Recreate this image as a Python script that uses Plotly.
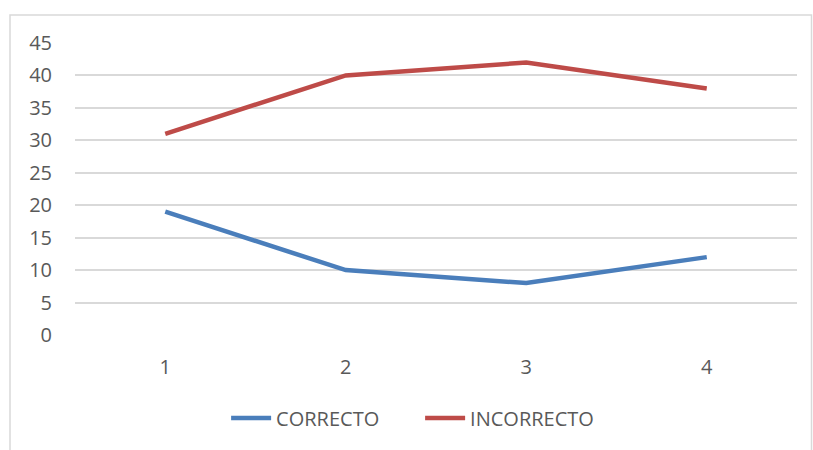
import plotly.graph_objects as go

categories = [1, 2, 3, 4]
correcto = [19, 10, 8, 12]
incorrecto = [31, 40, 42, 38]
y_ticks = [0, 5, 10, 15, 20, 25, 30, 35, 40, 45]

font_family = "Open Sans, Liberation Sans, sans-serif"
text_color = "#595959"

fig = go.Figure()
fig.add_trace(go.Scatter(x=categories, y=correcto, mode="lines", name="CORRECTO",
                         line=dict(color="#4A7EBB", width=4.5)))
fig.add_trace(go.Scatter(x=categories, y=incorrecto, mode="lines", name="INCORRECTO",
                         line=dict(color="#BE4B48", width=4.5)))

fig.update_layout(
    width=813, height=450,
    margin=dict(l=75, r=16, t=43, b=115),
    paper_bgcolor="white", plot_bgcolor="white",
    font=dict(family=font_family, size=20, color=text_color),
    showlegend=True,
    legend=dict(orientation="h", x=0.478, xanchor="center", y=-0.284, yanchor="middle",
                font=dict(size=20, color=text_color), itemwidth=40, tracegroupgap=0,
                entrywidth=139, entrywidthmode="pixels"),
    xaxis=dict(range=[0.5, 4.5], tickvals=categories, ticktext=[str(c) for c in categories],
               showgrid=False, zeroline=False, showline=False, ticks="",
               ticklabelstandoff=18),
    yaxis=dict(range=[0, 45], tickvals=y_ticks, showgrid=True, gridcolor="#D9D9D9",
               gridwidth=1.5, zeroline=False, showline=False, ticks="",
               ticklabelstandoff=22),
    shapes=[dict(type="rect", xref="paper", yref="paper",
                 x0=(10 - 75) / 722, x1=(811.5 - 75) / 722,
                 y0=(335 - 460) / 292, y1=(335 - 15) / 292,
                 line=dict(color="#D9D9D9", width=1.5), fillcolor="rgba(0,0,0,0)",
                 layer="below")],
)

fig.write_html("out.html")
